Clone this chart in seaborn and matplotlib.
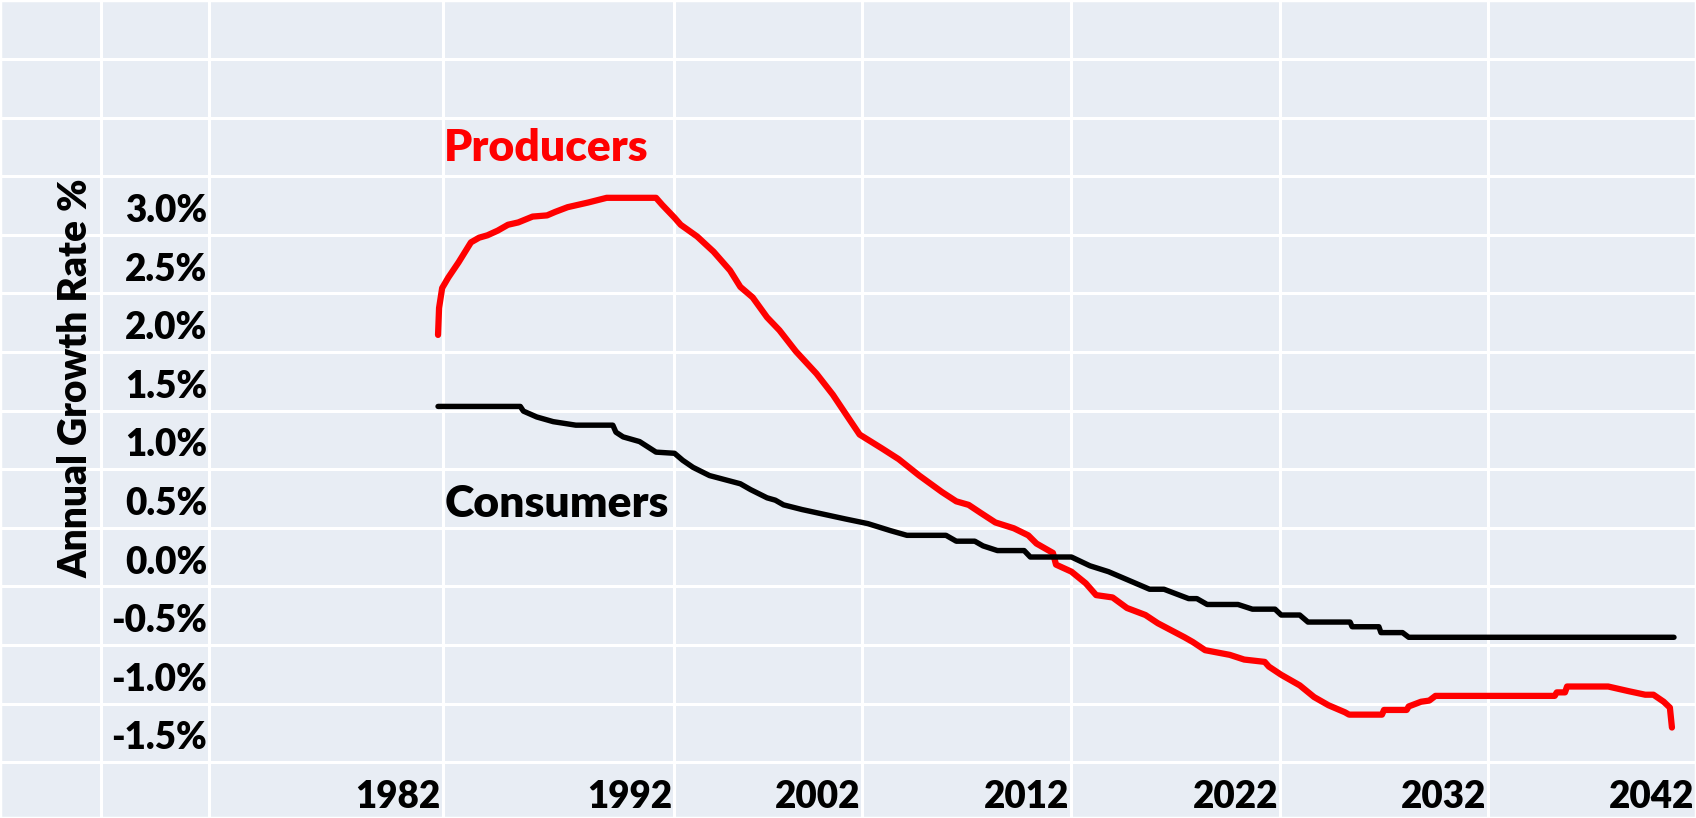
import matplotlib
matplotlib.use("Agg")
import matplotlib.pyplot as plt
import seaborn as sns
import pandas as pd

# Producers: annual growth rate (%)
prod_years = [1982.0, 1982.05, 1982.2, 1982.5, 1983.0, 1983.6, 1984.0, 1984.4, 1984.9, 1985.4,
              1985.9, 1986.6, 1987.3, 1987.7, 1988.3, 1989.3, 1990.2, 1992.6, 1992.9, 1993.5,
              1993.8, 1994.6, 1995.4, 1996.2, 1996.7, 1997.3, 1998.0, 1998.6, 1999.4, 2000.4,
              2001.2, 2002.0, 2002.5, 2003.6, 2004.4, 2005.4, 2006.5, 2007.2, 2007.8, 2008.4,
              2009.1, 2010.0, 2010.7, 2011.1, 2011.9, 2012.05, 2012.8, 2013.5, 2014.0, 2014.8,
              2015.5, 2016.4, 2017.0, 2018.3, 2018.7, 2019.3, 2020.5, 2021.2, 2022.2, 2022.4,
              2023.0, 2023.9, 2024.6, 2025.3, 2026.1, 2026.3, 2027.9, 2028.0, 2029.1, 2029.2,
              2029.8, 2030.2, 2030.5, 2036.3, 2036.4, 2036.8, 2036.9, 2038.9, 2039.9, 2040.7,
              2041.1, 2041.6, 2041.9, 2042.0]
prod_vals = [1.93, 2.16, 2.33, 2.42, 2.55, 2.72, 2.76, 2.78, 2.82, 2.87,
             2.89, 2.94, 2.95, 2.98, 3.02, 3.06, 3.10, 3.10, 3.04, 2.93,
             2.87, 2.77, 2.64, 2.48, 2.34, 2.25, 2.08, 1.97, 1.79, 1.60,
             1.42, 1.21, 1.08, 0.96, 0.87, 0.73, 0.59, 0.51, 0.48, 0.41,
             0.33, 0.28, 0.22, 0.15, 0.07, -0.03, -0.09, -0.19, -0.29, -0.31,
             -0.40, -0.46, -0.53, -0.65, -0.69, -0.76, -0.80, -0.84, -0.86, -0.90,
             -0.97, -1.06, -1.16, -1.23, -1.29, -1.31, -1.31, -1.27, -1.27, -1.24,
             -1.20, -1.19, -1.15, -1.15, -1.12, -1.12, -1.07, -1.07, -1.11, -1.14,
             -1.14, -1.20, -1.25, -1.42]

# Consumers
cons_years = [1982.0, 1986.0, 1986.15, 1986.8, 1987.6, 1988.7, 1990.5, 1990.65, 1991.0, 1991.8,
              1992.6, 1993.5, 1993.9, 1994.4, 1995.2, 1996.7, 1997.2, 1998.0, 1998.4, 1998.8,
              1999.7, 2001.8, 2002.9, 2004.0, 2004.8, 2006.7, 2007.2, 2008.1, 2008.5, 2009.2,
              2010.5, 2010.8, 2012.8, 2013.7, 2014.6, 2015.4, 2016.6, 2017.3, 2018.5, 2018.9,
              2019.4, 2020.9, 2021.6, 2022.7, 2023.0, 2023.9, 2024.3, 2026.35, 2026.45, 2027.75,
              2027.85, 2028.9, 2029.2, 2042.1]
cons_vals = [1.32, 1.32, 1.28, 1.23, 1.19, 1.16, 1.16, 1.10, 1.06, 1.02,
             0.93, 0.92, 0.86, 0.80, 0.73, 0.66, 0.61, 0.54, 0.52, 0.48,
             0.44, 0.36, 0.32, 0.26, 0.22, 0.22, 0.17, 0.17, 0.13, 0.09,
             0.09, 0.035, 0.035, -0.04, -0.09, -0.15, -0.24, -0.24, -0.32, -0.32,
             -0.37, -0.37, -0.41, -0.41, -0.46, -0.46, -0.52, -0.52, -0.56, -0.56,
             -0.61, -0.61, -0.65, -0.65]

y_ticks = [3.0, 2.5, 2.0, 1.5, 1.0, 0.5, 0.0, -0.5, -1.0, -1.5]
x_labels = ["1982", "1992", "2002", "2012", "2022", "2032", "2042"]

prod = pd.DataFrame({"year": prod_years, "rate": prod_vals})
cons = pd.DataFrame({"year": cons_years, "rate": cons_vals})

sns.set_theme(style="darkgrid")
plt.rcParams["font.family"] = ["Lato", "DejaVu Sans"]
plt.rcParams["font.weight"] = "bold"

fig = plt.figure(figsize=(16.96, 8.18), dpi=100)
ax = fig.add_axes([0, 0, 1, 1])
ax.set_facecolor("#E8EDF4")

sns.lineplot(data=prod, x="year", y="rate", ax=ax, color="#FF0000", lw=4.5,
             estimator=None, solid_capstyle="round", solid_joinstyle="round")
sns.lineplot(data=cons, x="year", y="rate", ax=ax, color="black", lw=3.9,
             estimator=None, solid_capstyle="round", solid_joinstyle="round")

ax.set_xlim(1960.70, 2043.17)
ax.set_ylim(-2.192, 4.788)

# cell-like grid (spreadsheet look)
grid_x = [1965.61, 1970.87, 1982.24, 1993.47, 2002.62, 2012.78, 2022.94, 2033.05]
grid_y = [4.285 - 0.5 * k for k in range(13)]
ax.set_xticks(grid_x)
ax.set_yticks(grid_y)
ax.tick_params(length=0, labelleft=False, labelbottom=False)
ax.grid(True, color="white", lw=2.2)
for s in ax.spines.values():
    s.set_color("white")
    s.set_linewidth(2.5)
ax.set_xlabel("")
ax.set_ylabel("")

# y tick labels, right-aligned inside the second column
for v in y_ticks:
    ax.annotate(f"{v:.1f}%", xy=(1970.87, v - 0.107), xytext=(-1.5, 0),
                textcoords="offset points", ha="right", va="baseline",
                fontsize=26.5, fontweight="heavy", color="black")

# x tick labels, right-aligned in the bottom row
label_edges = grid_x[2:] + [2043.17]
for lab, gx in zip(x_labels, label_edges):
    ax.annotate(lab, xy=(gx, -2.107), xytext=(-1.5, 0), textcoords="offset points",
                ha="right", va="baseline", fontsize=26.5, fontweight="heavy", color="black")

ax.text(1964.4, 1.56, "Annual Growth Rate %", rotation=90, ha="center", va="center",
        fontsize=28, fontweight="heavy", color="black")

ax.text(1982.3, 3.41, "Producers", color="#FF0000", fontsize=32, fontweight="heavy",
        ha="left", va="baseline")
ax.text(1982.3, 0.376, "Consumers", color="black", fontsize=32, fontweight="heavy",
        ha="left", va="baseline")

fig.savefig("out.png", dpi=100)
